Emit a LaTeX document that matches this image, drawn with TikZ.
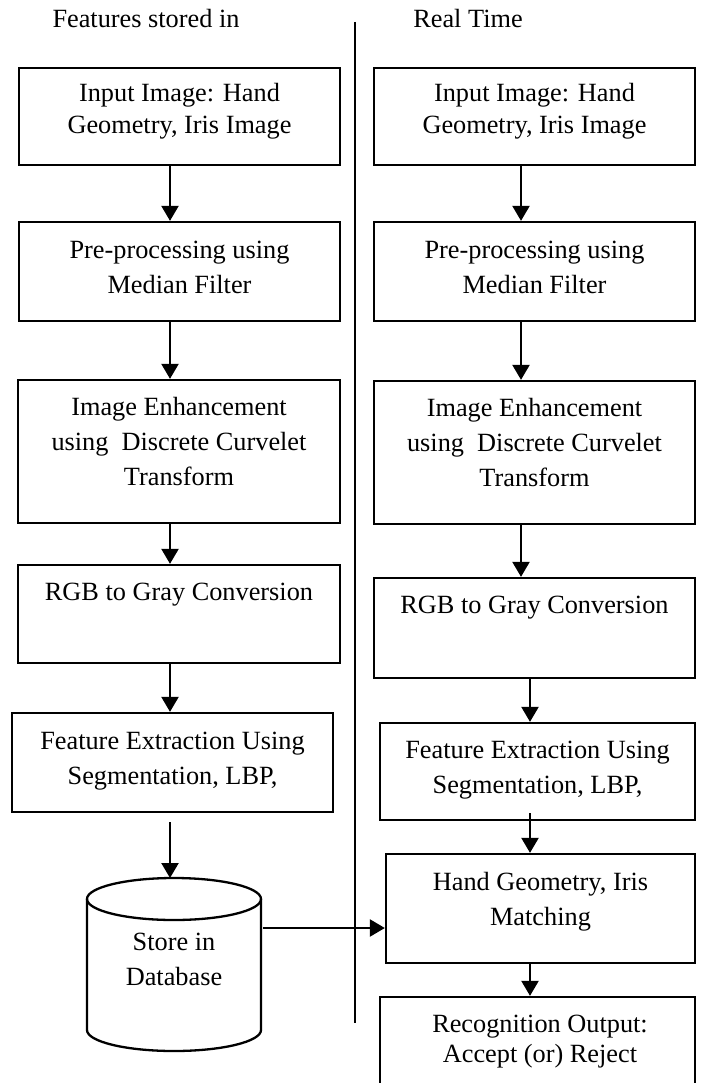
\documentclass[tikz,border=0pt]{standalone}
\usepackage{fontspec}
\setmainfont{Liberation Serif}
\usetikzlibrary{arrows.meta}
\begin{document}
\begin{tikzpicture}[x=1pt,y=-1pt,
  box/.style={draw, line width=2.3pt, rectangle, inner sep=0pt},
  txt/.style={align=center, inner sep=0pt, anchor=base, font=\fontsize{26.3}{35}\selectfont},
  arr/.style={line width=2.3pt, -{Triangle[width=17pt,length=15pt]}},
  ln/.style={line width=2.3pt}]
\useasboundingbox (0,0) rectangle (705,1083);
% titles
\node[txt] (tl) at (146,28) {Features stored in};
\node[txt] (tr) at (468,28) {Real Time};
% divider
\coordinate (dtop) at (355,22);
\coordinate (dbot) at (355,1023);
\draw[ln] (dtop) -- (dbot);
% left boxes
\node[box, minimum width=321pt, minimum height=97pt] (L1) at (179.5,116.5) {};
\node[box, minimum width=321pt, minimum height=99pt] (L2) at (179.5,271.5) {};
\node[box, minimum width=322pt, minimum height=143pt] (L3) at (179,451.5) {};
\node[box, minimum width=322pt, minimum height=98pt] (L4) at (179,614) {};
\node[box, minimum width=321pt, minimum height=99pt] (L5) at (172.5,762.5) {};
\node[txt, font=\fontsize{26.3}{31.5}\selectfont] (tL1) at (179.5,133.5) {Input Image: Hand\\Geometry, Iris Image};
\node[txt] (tL2) at (179.5,293) {Pre-processing using\\Median Filter};
\node[txt] (tL3) at (179,485) {Image Enhancement\\using~ Discrete Curvelet\\Transform};
\node[txt] (tL4) at (179,600) {RGB to Gray Conversion};
\node[txt] (tL5) at (172.5,784) {Feature Extraction Using\\Segmentation, LBP,};
% cylinder
\draw[line width=2.3pt] (174,899) ellipse [x radius=87pt, y radius=21pt];
\draw[line width=2.3pt] (87,899) -- (87,1030) arc[start angle=180, end angle=360, x radius=87pt, y radius=21pt] -- (261,899);
\coordinate (dbtop) at (170,878);
\coordinate (dbout) at (263,928);
\node[txt] (DB) at (174,985) {Store in\\Database};
% right boxes
\node[box, minimum width=321pt, minimum height=97pt] (R1) at (534.5,116.5) {};
\node[box, minimum width=321pt, minimum height=99pt] (R2) at (534.5,271.5) {};
\node[box, minimum width=321pt, minimum height=143pt] (R3) at (534.5,452.5) {};
\node[box, minimum width=321pt, minimum height=100pt] (R4) at (534.5,628) {};
\node[box, minimum width=315pt, minimum height=97pt] (R5) at (537.5,771.5) {};
\node[box, minimum width=309pt, minimum height=109pt] (R6) at (540.5,908.5) {};
\node[box, minimum width=315pt, minimum height=120pt] (R7) at (537.5,1057) {};
\node[txt, font=\fontsize{26.3}{31.5}\selectfont] (tR1) at (534.5,133.5) {Input Image: Hand\\Geometry, Iris Image};
\node[txt] (tR2) at (534.5,293) {Pre-processing using\\Median Filter};
\node[txt] (tR3) at (534.5,486) {Image Enhancement\\using~ Discrete Curvelet\\Transform};
\node[txt] (tR4) at (534.5,613) {RGB to Gray Conversion};
\node[txt] (tR5) at (537.5,793) {Feature Extraction Using\\Segmentation, LBP,};
\node[txt] (tR6) at (540.5,925) {Hand Geometry, Iris\\Matching};
\node[txt, font=\fontsize{26.3}{30}\selectfont] (tR7) at (540,1062) {Recognition Output:\\Accept (or) Reject};
% left arrows
\draw[arr] ([xshift=-9.5pt]L1.south) -- ([xshift=-9.5pt]L1.south |- L2.north);
\draw[arr] ([xshift=-9.5pt]L2.south) -- ([xshift=-9.5pt]L2.south |- L3.north);
\draw[arr] ([xshift=-9pt]L3.south) -- ([xshift=-9pt]L3.south |- L4.north);
\draw[arr] ([xshift=-9pt]L4.south) -- ([xshift=-9pt]L4.south |- L5.north);
\draw[arr, shorten <=9pt] ([xshift=-2.5pt]L5.south) -- (dbtop);
\draw[arr] (dbout) -- (dbout -| R6.west);
% right arrows
\draw[arr] ([xshift=-13.5pt]R1.south) -- ([xshift=-13.5pt]R1.south |- R2.north);
\draw[arr] ([xshift=-13.5pt]R2.south) -- ([xshift=-13.5pt]R2.south |- R3.north);
\draw[arr] ([xshift=-13.5pt]R3.south) -- ([xshift=-13.5pt]R3.south |- R4.north);
\draw[arr] ([xshift=-4.5pt]R4.south) -- ([xshift=-4.5pt]R4.south |- R5.north);
\draw[arr, shorten <=-8pt] ([xshift=-7.5pt]R5.south) -- ([xshift=-7.5pt]R5.south |- R6.north);
\draw[arr] ([xshift=-10.5pt]R6.south) -- ([xshift=-10.5pt]R6.south |- R7.north);
\end{tikzpicture}
\end{document}
